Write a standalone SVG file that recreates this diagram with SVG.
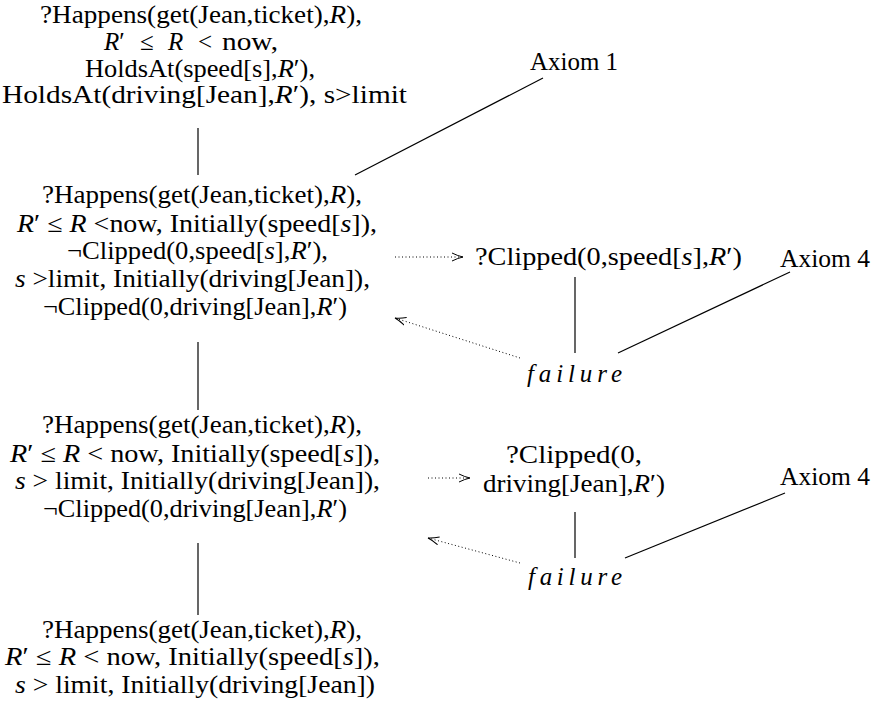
<svg xmlns="http://www.w3.org/2000/svg" width="875" height="715" viewBox="0 0 875 715">
<defs>
<style>
.t{font-family:"Liberation Serif","Noto Serif","DejaVu Serif",serif;font-size:25px;fill:#000;text-anchor:middle}
.s{text-anchor:start}
.i{font-style:italic}
.solid{stroke:#000;stroke-width:1.2;fill:none}
.dot{stroke:#000;stroke-width:1;fill:none;stroke-dasharray:1 2.5}
</style>
<marker id="ah" markerUnits="userSpaceOnUse" markerWidth="14" markerHeight="10" refX="11" refY="5" orient="auto">
<path d="M0,1 Q6,4 11,5 Q6,6 0,9" fill="none" stroke="#000" stroke-width="1"/>
</marker>
</defs>
<rect width="875" height="715" fill="#fff"/>

<g id="connectors">
<line class="solid" x1="198" y1="128" x2="198" y2="175"/>
<line class="solid" x1="198" y1="342" x2="198" y2="410"/>
<line class="solid" x1="198" y1="543" x2="198" y2="615"/>
<line class="solid" x1="355" y1="175" x2="543" y2="78"/>
<line class="dot" x1="395" y1="257" x2="463" y2="257" marker-end="url(#ah)"/>
<line class="solid" x1="575" y1="277" x2="575" y2="353"/>
<line class="dot" x1="520" y1="358" x2="395" y2="318" marker-end="url(#ah)"/>
<line class="solid" x1="618" y1="353" x2="790" y2="272"/>
<line class="dot" x1="428" y1="478" x2="470" y2="478" marker-end="url(#ah)"/>
<line class="solid" x1="575" y1="512" x2="575" y2="558"/>
<line class="dot" x1="520" y1="563" x2="428" y2="538" marker-end="url(#ah)"/>
<line class="solid" x1="625" y1="558" x2="785" y2="493"/>
</g>

<g id="node1">
<text class="t" x="201" y="23" textLength="322" lengthAdjust="spacingAndGlyphs">?Happens(get(Jean,ticket),<tspan class="i">R</tspan>),</text>
<text class="t s" y="50"><tspan x="104" class="i">R</tspan>′<tspan x="140">≤</tspan><tspan x="168" class="i">R</tspan><tspan x="198">&lt;</tspan><tspan x="222" textLength="56" lengthAdjust="spacingAndGlyphs">now,</tspan></text>
<text class="t" x="200" y="77" textLength="230" lengthAdjust="spacingAndGlyphs">HoldsAt(speed[s],<tspan class="i">R</tspan>′),</text>
<text class="t" x="204.5" y="103" textLength="405" lengthAdjust="spacingAndGlyphs">HoldsAt(driving[Jean],<tspan class="i">R</tspan>′), s&gt;limit</text>
</g>

<g id="axiom1">
<text class="t" x="574" y="70" textLength="88" lengthAdjust="spacingAndGlyphs">Axiom 1</text>
</g>

<g id="node2">
<text class="t" x="202" y="203" textLength="320" lengthAdjust="spacingAndGlyphs">?Happens(get(Jean,ticket),<tspan class="i">R</tspan>),</text>
<text class="t" x="197" y="232" textLength="360" lengthAdjust="spacingAndGlyphs"><tspan class="i">R</tspan>′ ≤ <tspan class="i">R</tspan> &lt;now, Initially(speed[<tspan class="i">s</tspan>]),</text>
<text class="t" x="197.5" y="259" textLength="261" lengthAdjust="spacingAndGlyphs">¬Clipped(0,speed[<tspan class="i">s</tspan>],<tspan class="i">R</tspan>′),</text>
<text class="t" x="192.5" y="287" textLength="355" lengthAdjust="spacingAndGlyphs"><tspan class="i">s</tspan> &gt;limit, Initially(driving[Jean]),</text>
<text class="t" x="195" y="315" textLength="304" lengthAdjust="spacingAndGlyphs">¬Clipped(0,driving[Jean],<tspan class="i">R</tspan>′)</text>
</g>

<g id="clipped1">
<text class="t" x="608.5" y="265" textLength="267" lengthAdjust="spacingAndGlyphs">?Clipped(0,speed[<tspan class="i">s</tspan>],<tspan class="i">R</tspan>′)</text>
</g>

<g id="failure1">
<text class="t i" x="574.5" y="382" textLength="95" lengthAdjust="spacing">failure</text>
</g>

<g id="axiom4a">
<text class="t" x="825" y="267" textLength="90" lengthAdjust="spacingAndGlyphs">Axiom 4</text>
</g>

<g id="node3">
<text class="t" x="202" y="433" textLength="320" lengthAdjust="spacingAndGlyphs">?Happens(get(Jean,ticket),<tspan class="i">R</tspan>),</text>
<text class="t" x="195" y="462" textLength="370" lengthAdjust="spacingAndGlyphs"><tspan class="i">R</tspan>′ ≤ <tspan class="i">R</tspan> &lt; now, Initially(speed[<tspan class="i">s</tspan>]),</text>
<text class="t" x="197.5" y="489" textLength="365" lengthAdjust="spacingAndGlyphs"><tspan class="i">s</tspan> &gt; limit, Initially(driving[Jean]),</text>
<text class="t" x="195" y="517" textLength="304" lengthAdjust="spacingAndGlyphs">¬Clipped(0,driving[Jean],<tspan class="i">R</tspan>′)</text>
</g>

<g id="clipped2">
<text class="t" x="574" y="463" textLength="136" lengthAdjust="spacingAndGlyphs">?Clipped(0,</text>
<text class="t" x="574" y="492" textLength="182" lengthAdjust="spacingAndGlyphs">driving[Jean],<tspan class="i">R</tspan>′)</text>
</g>

<g id="failure2">
<text class="t i" x="575" y="585" textLength="94" lengthAdjust="spacing">failure</text>
</g>

<g id="axiom4b">
<text class="t" x="825" y="485" textLength="90" lengthAdjust="spacingAndGlyphs">Axiom 4</text>
</g>

<g id="node4">
<text class="t" x="202" y="638" textLength="320" lengthAdjust="spacingAndGlyphs">?Happens(get(Jean,ticket),<tspan class="i">R</tspan>),</text>
<text class="t" x="192.5" y="665" textLength="375" lengthAdjust="spacingAndGlyphs"><tspan class="i">R</tspan>′ ≤ <tspan class="i">R</tspan> &lt; now, Initially(speed[<tspan class="i">s</tspan>]),</text>
<text class="t" x="195" y="693" textLength="360" lengthAdjust="spacingAndGlyphs"><tspan class="i">s</tspan> &gt; limit, Initially(driving[Jean])</text>
</g>
</svg>
